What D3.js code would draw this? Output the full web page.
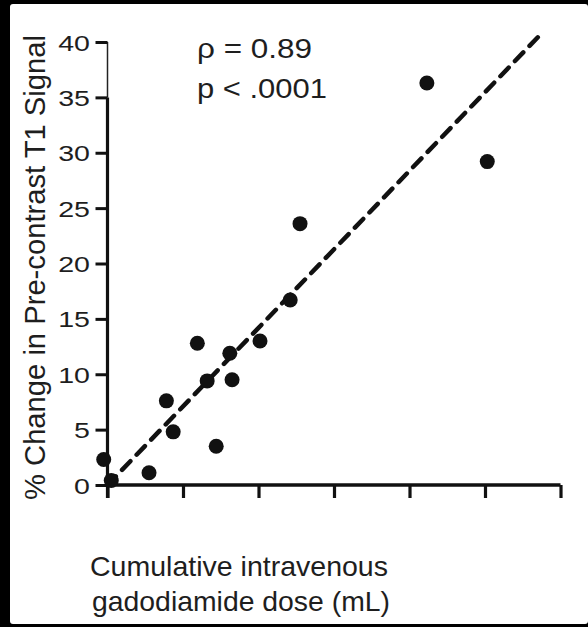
<!DOCTYPE html>
<html>
<head>
<meta charset="utf-8">
<script src="https://cdn.jsdelivr.net/npm/d3@7"></script>
<style>
  html, body { margin: 0; padding: 0; background: #000; }
  svg { display: block; }
  text { font-family: "Liberation Sans", Arial, Helvetica, sans-serif; fill: #1e1e1e; }
</style>
</head>
<body>
<svg id="chart" width="588" height="627"></svg>
<script>
// Data
const doseX = [-0.5, 0.5, 5.5, 7.8, 8.7, 14.4, 11.9, 13.2, 16.2, 16.5, 20.2, 24.2, 25.5, 42.3, 50.3];
const signalY = [2.3, 0.4, 1.1, 7.6, 4.8, 3.5, 12.8, 9.4, 11.9, 9.5, 13.0, 16.7, 23.6, 36.3, 29.2];
const fitX = [0, 57.1];
const fitY = [0, 40.5];
const yTicks = [0, 5, 10, 15, 20, 25, 30, 35, 40];
const xTicks = [0, 10, 20, 30, 40, 50, 60];
const statLines = ["\u03C1 = 0.89", "p < .0001"];
const xLabelLines = ["Cumulative intravenous", "gadodiamide dose (mL)"];
const yLabel = "% Change in Pre-contrast T1 Signal";

const svg = d3.select("#chart");
svg.append("rect").attr("x", 10).attr("y", 4).attr("width", 578).attr("height", 620)
  .attr("rx", 3).attr("fill", "#fff");

const x = d3.scaleLinear().domain([0, 60]).range([107.5, 560.5]);
const y = d3.scaleLinear().domain([0, 40]).range([485, 42]);

// Y axis (thin top segment, thick rest)
svg.append("line").attr("x1", x(0)).attr("x2", x(0)).attr("y1", y(40)).attr("y2", y(35))
  .attr("stroke", "#222").attr("stroke-width", 1.5);
svg.append("line").attr("x1", x(0)).attr("x2", x(0)).attr("y1", y(35)).attr("y2", 498)
  .attr("stroke", "#111").attr("stroke-width", 3.2);

const yAxis = d3.axisLeft(y).tickValues(yTicks).tickSize(12).tickFormat(d3.format("d"));
const gy = svg.append("g").attr("transform", `translate(${x(0)},0)`).call(yAxis);
gy.select(".domain").remove();
gy.selectAll(".tick line").attr("stroke", "#111").attr("stroke-width", 3);
gy.selectAll(".tick text")
  .attr("x", 0).attr("dy", "0.36em")
  .attr("transform", "translate(-17.5,0) scale(1.27,1)")
  .attr("font-size", 22.5)
  .style("font-family", "Liberation Sans, Arial, sans-serif").attr("fill", "#1e1e1e");

// X axis
const xAxis = d3.axisBottom(x).tickValues(xTicks).tickSize(13).tickFormat("");
const gx = svg.append("g").attr("transform", `translate(0,${y(0)})`).call(xAxis);
gx.select(".domain").attr("stroke", "#111").attr("stroke-width", 3.4)
  .attr("d", `M${x(0)},0H${x(60)}`);
gx.selectAll(".tick line").attr("stroke", "#111").attr("stroke-width", 3.2);

// Fit line
svg.append("path")
  .datum(fitX.map((d, i) => [d, fitY[i]]))
  .attr("d", d3.line().x(d => x(d[0])).y(d => y(d[1])))
  .attr("fill", "none").attr("stroke", "#111").attr("stroke-width", 4.5)
  .attr("stroke-dasharray", "12,9").attr("stroke-linecap", "round");

// Points
svg.append("g").selectAll("circle")
  .data(doseX.map((d, i) => [d, signalY[i]]))
  .join("circle")
  .attr("cx", d => x(d[0])).attr("cy", d => y(d[1])).attr("r", 7.5)
  .attr("fill", "#111");

// Stats text
const statLen = [115, 130];
svg.append("g").selectAll("text").data(statLines).join("text")
  .attr("x", 197).attr("y", (d, i) => 58 + i * 40)
  .attr("font-size", 28.5)
  .attr("textLength", (d, i) => statLen[i]).attr("lengthAdjust", "spacingAndGlyphs")
  .text(d => d);

// X label
svg.append("g").selectAll("text").data(xLabelLines).join("text")
  .attr("x", (d, i) => i === 0 ? 90 : 92).attr("y", (d, i) => 576 + i * 35)
  .attr("font-size", 28.5)
  .attr("textLength", 298).attr("lengthAdjust", "spacingAndGlyphs")
  .text(d => d);

// Y label
svg.append("text")
  .attr("transform", `translate(45,500) rotate(-90)`)
  .attr("font-size", 29.5)
  .attr("textLength", 465).attr("lengthAdjust", "spacingAndGlyphs")
  .text(yLabel);
</script>
</body>
</html>
